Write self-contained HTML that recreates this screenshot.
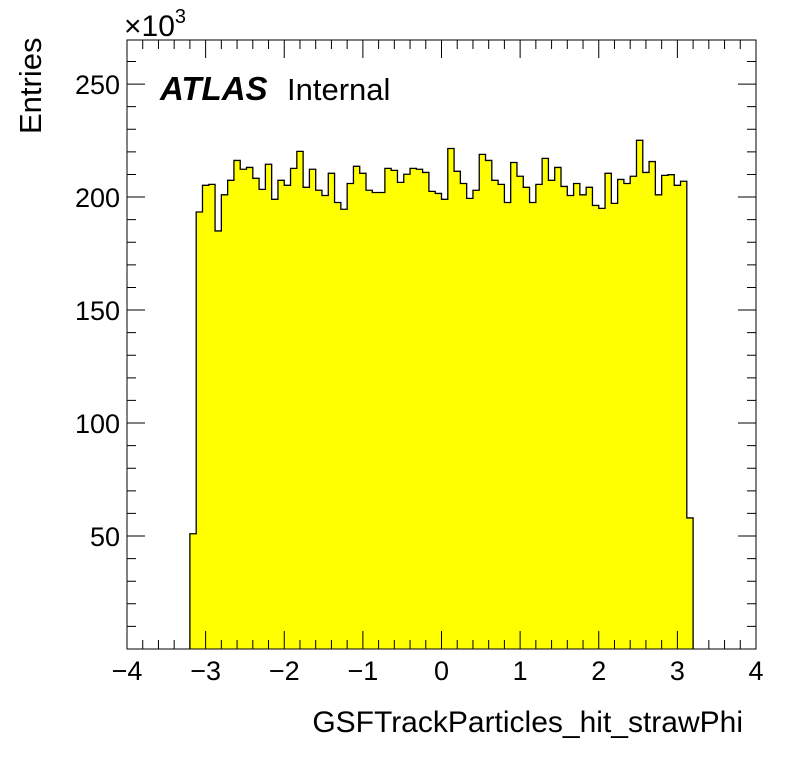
<!DOCTYPE html>
<html><head><meta charset="utf-8"><style>
body{margin:0;background:#fff;}
svg{display:block;font-family:"Liberation Sans",Arial,sans-serif;}
</style></head><body>
<svg id="c" width="796" height="772" viewBox="0 0 796 772">
<rect width="796" height="772" fill="#fff"/>
<g id="bars"></g>
<g id="axes"></g>
<text x="124" y="36" font-size="30">×10<tspan dy="-13" font-size="20">3</tspan></text>
<text transform="translate(41,134) rotate(-90)" font-size="31" text-anchor="start">Entries</text>
<text x="743" y="732" font-size="30" text-anchor="end">GSFTrackParticles_hit_strawPhi</text>
<text x="160" y="100" font-size="33" font-weight="bold" font-style="italic">ATLAS</text>
<text x="287" y="100" font-size="31">Internal</text>
</svg>
<script>
const binLow = -3.2, binWidth = 0.08;
const counts = [51,193.4,205.2,205.6,185,201,207.4,216.2,212.3,213.1,208.3,203.4,214.5,199,207.4,205.2,212.7,220.2,204.3,212.3,203,200.7,210.5,197.6,194.6,206,213.6,210.5,203,202,202,212.7,211.8,206.5,210.1,212.7,212.3,210.9,202.5,201.6,199,221.5,211.4,206,199.4,203,218.9,216.2,207.4,205.6,197.6,215.3,209.2,204.3,197.6,205.6,217.1,207.4,213.1,204.7,200.7,206,201,204.3,196.3,195,210.5,197.2,207.8,206,209.2,225.1,210.9,215.7,201,209.6,209.9,205.2,207,58];
const xTicks = [-4,-3,-2,-1,0,1,2,3,4];
const xTickLabels = ["\u22124","\u22123","\u22122","\u22121","0","1","2","3","4"];
const yTicks = [50,100,150,200,250];
const yTickLabels = ["50","100","150","200","250"];
const X0=127,X1=756,Y0=649,Y1=40,xmin=-4,xmax=4,ymin=0,ymax=269.5;
const xs=v=>X0+(v-xmin)/(xmax-xmin)*(X1-X0);
const ys=v=>Y0-(v-ymin)/(ymax-ymin)*(Y0-Y1);
const NS="http://www.w3.org/2000/svg";
function mk(tag,attrs,parent){const e=document.createElementNS(NS,tag);for(const k in attrs)e.setAttribute(k,attrs[k]);parent.appendChild(e);return e;}
const bars=document.getElementById('bars'),axes=document.getElementById('axes');
let d="M"+xs(binLow)+","+ys(0);
counts.forEach((c,i)=>{
  const xa=xs(binLow+i*binWidth),xb=xs(binLow+(i+1)*binWidth);
  const r=mk('rect',{x:xa,y:ys(c),width:xb-xa+0.3,height:ys(0)-ys(c),fill:'#ffff00'},bars);
  
  
  d+=" L"+xa+","+ys(c)+" L"+xb+","+ys(c);
});
d+=" L"+xs(binLow+counts.length*binWidth)+","+ys(0);
const outline=mk('path',{d:d,fill:'none',stroke:'#000','stroke-width':1.3},bars);


const frame=mk('rect',{x:X0,y:Y1,width:X1-X0,height:Y0-Y1,fill:'none',stroke:'#000','stroke-width':1},axes);


let td="";
for(let v=xmin;v<=xmax+1e-9;v+=0.2){const maj=Math.abs(v-Math.round(v))<1e-6;const L=maj?18:9;const x=xs(v);td+=`M${x},${Y0}v${-L}M${x},${Y1}v${L}`;}
for(let v=10;v<ymax;v+=10){const maj=v%50===0;const L=maj?18:9;const y=ys(v);td+=`M${X0},${y}h${L}M${X1},${y}h${-L}`;}
const ticks=mk('path',{d:td,stroke:'#000','stroke-width':1,fill:'none'},axes);


xTicks.forEach((v,i)=>{
  const t=mk('text',{x:xs(v),y:680,'font-size':27,'text-anchor':'middle'},axes);
  t.textContent=xTickLabels[i];
  
  
});
yTicks.forEach((v,i)=>{
  const t=mk('text',{x:120,y:ys(v)+10,'font-size':27,'text-anchor':'end'},axes);
  t.textContent=yTickLabels[i];
  
  
});
</script>
</body></html>
